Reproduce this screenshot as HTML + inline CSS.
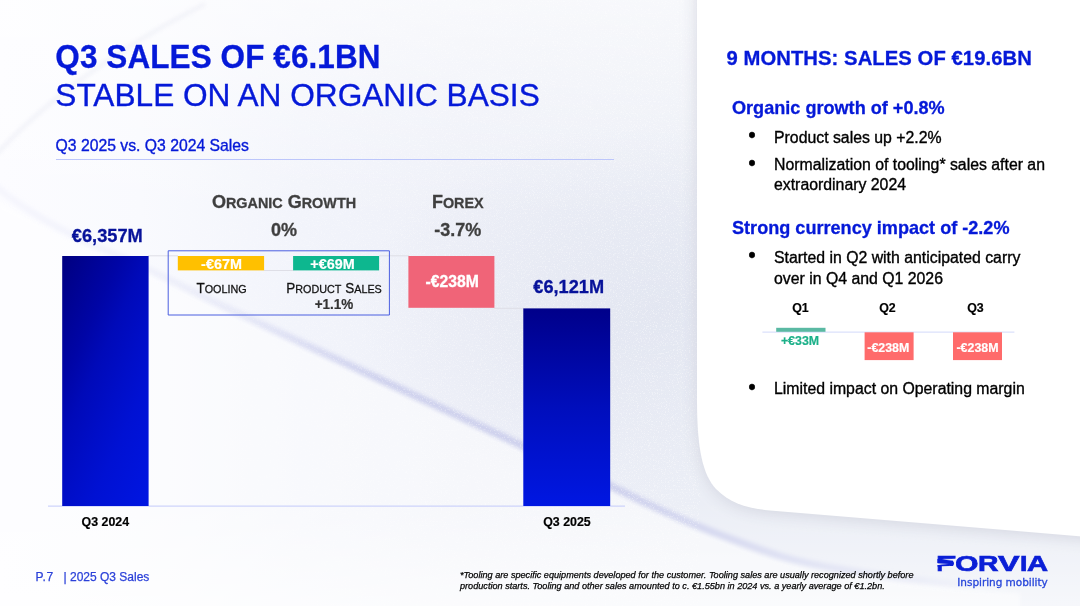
<!DOCTYPE html>
<html lang="en">
<head>
<meta charset="utf-8">
<title>Q3 Sales of €6.1bn – Stable on an organic basis</title>
<style>
html,body{margin:0;padding:0;}
body{width:1080px;height:606px;overflow:hidden;background:#f5f6fc;font-family:"Liberation Sans", Arial, Helvetica, sans-serif;}
.slide{position:relative;width:1080px;height:606px;overflow:hidden;}
.bg{position:absolute;left:0;top:0;display:block;}
.t{position:absolute;white-space:nowrap;margin:0;padding:0;font-weight:normal;}
</style>
</head>
<body>
<div class="slide">
<svg class="bg" width="1080" height="606" viewBox="0 0 1080 606" aria-hidden="true">
<defs>
<linearGradient id="bgG" gradientUnits="userSpaceOnUse" x1="0" y1="0" x2="700" y2="0">
<stop offset="0" stop-color="#fcfcff"/>
<stop offset="0.2" stop-color="#f9fafe"/>
<stop offset="0.43" stop-color="#f2f4fb"/>
<stop offset="0.65" stop-color="#eef0f8"/>
<stop offset="1" stop-color="#ebeef6"/>
</linearGradient>
<linearGradient id="swG" gradientUnits="userSpaceOnUse" x1="0" y1="0" x2="1000" y2="0">
<stop offset="0" stop-color="#c6c9ec" stop-opacity="0.12"/>
<stop offset="0.14" stop-color="#c6c9ec" stop-opacity="0.16"/>
<stop offset="0.24" stop-color="#c6c9ec" stop-opacity="0.3"/>
<stop offset="0.38" stop-color="#c4c7ea" stop-opacity="0.8"/>
<stop offset="0.62" stop-color="#c4c7ea" stop-opacity="0.8"/>
<stop offset="0.8" stop-color="#c6c9ec" stop-opacity="0.4"/>
<stop offset="1" stop-color="#c6c9ec" stop-opacity="0"/>
</linearGradient>
<linearGradient id="topG" gradientUnits="userSpaceOnUse" x1="0" y1="0" x2="0" y2="220">
<stop offset="0" stop-color="#ffffff" stop-opacity="0.6"/>
<stop offset="1" stop-color="#ffffff" stop-opacity="0"/>
</linearGradient>
<radialGradient id="midG" gradientUnits="userSpaceOnUse" cx="660" cy="310" r="300" gradientTransform="translate(660 310) scale(1 0.62) translate(-660 -310)">
<stop offset="0" stop-color="#dde1ee" stop-opacity="0.6"/>
<stop offset="0.5" stop-color="#dde1ee" stop-opacity="0.3"/>
<stop offset="1" stop-color="#dde1ee" stop-opacity="0"/>
</radialGradient>
<linearGradient id="lowG" gradientUnits="userSpaceOnUse" x1="0" y1="500" x2="0" y2="606">
<stop offset="0" stop-color="#ffffff" stop-opacity="0"/>
<stop offset="1" stop-color="#ffffff" stop-opacity="0.55"/>
</linearGradient>
<filter id="b6" x="-20%" y="-20%" width="140%" height="140%"><feGaussianBlur stdDeviation="8"/></filter>
<filter id="b2" x="-20%" y="-20%" width="140%" height="140%"><feGaussianBlur stdDeviation="2.2"/></filter>
<filter id="b10" x="-20%" y="-20%" width="140%" height="140%"><feGaussianBlur stdDeviation="9"/></filter>
<filter id="noise" x="0" y="0" width="100%" height="100%" color-interpolation-filters="sRGB">
<feTurbulence type="fractalNoise" baseFrequency="0.75" numOctaves="2" seed="7" result="n"/>
<feColorMatrix type="matrix" values="0 0 0 0 1  0 0 0 0 1  0 0 0 0 1  5 0 0 0 -2.7"/>
</filter>
<linearGradient id="noiseMaskG" gradientUnits="userSpaceOnUse" x1="0" y1="0" x2="700" y2="0">
<stop offset="0" stop-color="#fff" stop-opacity="0.15"/>
<stop offset="0.5" stop-color="#fff" stop-opacity="0.7"/>
<stop offset="1" stop-color="#fff" stop-opacity="1"/>
</linearGradient>
<mask id="noiseMask"><rect width="700" height="606" fill="url(#noiseMaskG)"/></mask>
<filter id="b1" x="-5%" y="-5%" width="110%" height="110%"><feGaussianBlur stdDeviation="0.5"/></filter>
</defs>
<rect width="1080" height="606" fill="url(#bgG)"/>
<rect x="0" y="500" width="1080" height="106" fill="url(#lowG)"/>
<rect x="0" y="0" width="1080" height="220" fill="url(#topG)"/>
<rect x="300" y="100" width="420" height="420" fill="url(#midG)"/>
<!-- white wash below swoosh -->
<path d="M -30 190 C 20 210, 50 230, 100 252 C 150 272, 200 300, 240 318 L 523 450 L 613 491 C 640 504, 667 518, 713 536 C 740 546, 760 554, 780 560 C 800 566, 820 570, 840 573 C 900 583, 960 589, 1020 593 L 1020 640 L -30 640 Z" fill="#ffffff" opacity="0.5" filter="url(#b2)"/>
<!-- faint upper loop -->
<path d="M -5 156 C 40 106, 110 52, 205 4" fill="none" stroke="#d9dbea" stroke-width="3" filter="url(#b2)" opacity="0.4"/>
<!-- swoosh line -->
<path d="M -5 186 C 20 206, 50 226, 100 248 C 150 268, 200 296, 240 314 L 523 446 L 613 487 C 640 500, 667 514, 713 532 C 740 542, 760 550, 780 556 C 800 562, 820 566, 840 569 C 900 579, 960 585, 1020 589" fill="none" stroke="url(#swG)" stroke-width="7" filter="url(#b2)"/>
<!-- grain -->
<g mask="url(#noiseMask)"><rect width="700" height="606" fill="#fff" filter="url(#noise)" opacity="0.4"/></g>
<!-- panel shadow -->
<path d="M697 -30 L 1110 -30 L 1110 541 L 770 513 C 745 510, 730 505, 716 491 C 703 477, 697 452, 697 400 Z" fill="#d3d5df" filter="url(#b6)" opacity="0.95"/>
<!-- white panel -->
<path d="M697 -30 L 1110 -30 L 1110 538.8 L 770 510.5 C 745 508, 730 503, 716 489 C 703 475, 697 450, 697 400 Z" fill="#ffffff" filter="url(#b1)"/>
</svg>
<h1 class="t" style="top:38.89px;font-size:31.5px;line-height:37.8px;color:#0519d8;font-weight:bold;left:55.3px;transform-origin:0 29.81px;transform:scaleY(1.04);-webkit-text-stroke:0.3px #0519d8;letter-spacing:0.08px;">Q3 SALES OF €6.1BN</h1>
<p class="t" style="top:76.76px;font-size:31.63px;line-height:37.96px;color:#0519d8;left:55.3px;transform-origin:0 29.94px;transform:scaleY(1.0001);-webkit-text-stroke:0.35px #0519d8;">STABLE ON AN ORGANIC BASIS</p>
<h2 class="t" style="top:137.29px;font-size:15.75px;line-height:18.9px;color:#0519d8;left:55.5px;transform-origin:0 14.91px;transform:scaleY(1.0001);-webkit-text-stroke:0.35px #0519d8;">Q3 2025 vs. Q3 2024 Sales</h2>
<svg class="bg" width="1080" height="606" viewBox="0 0 1080 606" aria-hidden="true">
<defs>
<linearGradient id="bar1" gradientUnits="userSpaceOnUse" x1="22.2" y1="342.2" x2="188.6" y2="419.8">
<stop offset="0" stop-color="#000080"/>
<stop offset="0.29" stop-color="#0005a6"/>
<stop offset="0.42" stop-color="#000ab9"/>
<stop offset="0.58" stop-color="#000ec8"/>
<stop offset="0.71" stop-color="#0011d3"/>
<stop offset="1" stop-color="#0016e2"/>
</linearGradient>
<linearGradient id="bar2" x1="0" y1="0" x2="0" y2="1">
<stop offset="0" stop-color="#00008a"/>
<stop offset="0.5" stop-color="#000ebc"/>
<stop offset="1" stop-color="#0017e2"/>
</linearGradient>
</defs>
<!-- connectors -->
<rect x="148" y="255.3" width="30" height="1" fill="#dedee6"/>
<rect x="264" y="270" width="29.5" height="1" fill="#dedee6"/>
<rect x="379" y="255.3" width="30" height="1" fill="#dedee6"/>
<rect x="494" y="307.8" width="30" height="1" fill="#dedee6"/>
<!-- axis -->
<rect x="48" y="505.6" width="577" height="1" fill="#c3cbfb"/>
<!-- bars -->
<rect x="62.2" y="256" width="86.4" height="250" fill="url(#bar1)"/>
<rect x="523.3" y="308.4" width="86.9" height="197.6" fill="url(#bar2)"/>
<!-- organic growth box -->
<rect x="168.2" y="250.8" width="221.2" height="64.2" fill="none" stroke="#4a5fe0" stroke-width="1" stroke-linejoin="round"/>
<rect x="177.8" y="256" width="86.3" height="14.4" fill="#ffc000"/>
<rect x="293.1" y="256" width="86" height="14.4" fill="#0db78f"/>
<rect x="408.4" y="256" width="86" height="51.8" fill="#f06478"/>
<!-- subtitle rule -->
<rect x="56" y="159" width="558" height="1" fill="#bcc6fb"/>
<!-- mini chart -->
<rect x="762.4" y="331.6" width="252" height="1" fill="#d3d9fa"/>
<rect x="776.2" y="327.8" width="49.3" height="4" fill="#5ab9a3"/>
<rect x="864.6" y="332.3" width="49" height="27.8" fill="#ff6b6b"/>
<rect x="953" y="332.3" width="49" height="27.8" fill="#ff6b6b"/>
</svg>
<div class="t" style="top:225.13px;font-size:18.25px;line-height:21.9px;color:#07129a;font-weight:bold;left:107.3px;transform-origin:50% 17.27px;transform:translateX(-50%) scaleY(1.04);-webkit-text-stroke:0.3px #07129a;">€6,357M</div>
<div class="t" style="top:277.17px;font-size:18.2px;line-height:21.84px;color:#07129a;font-weight:bold;left:568.7px;transform-origin:50% 17.23px;transform:translateX(-50%) scaleY(1.04);-webkit-text-stroke:0.3px #07129a;">€6,121M</div>
<div class="t" style="top:192.16px;font-size:18px;line-height:21.6px;color:#3f3f3f;font-weight:bold;left:284px;transform-origin:50% 17.04px;transform:translateX(-50%) scaleY(1.04);-webkit-text-stroke:0.3px #3f3f3f;">O<span style="font-size:14.40px">RGANIC</span> G<span style="font-size:14.40px">ROWTH</span></div>
<div class="t" style="top:219.66px;font-size:18px;line-height:21.6px;color:#3f3f3f;font-weight:bold;left:284px;transform-origin:50% 17.04px;transform:translateX(-50%) scaleY(1.04);-webkit-text-stroke:0.3px #3f3f3f;">0%</div>
<div class="t" style="top:192.16px;font-size:18px;line-height:21.6px;color:#3f3f3f;font-weight:bold;left:457.8px;transform-origin:50% 17.04px;transform:translateX(-50%) scaleY(1.04);-webkit-text-stroke:0.3px #3f3f3f;">F<span style="font-size:14.40px">OREX</span></div>
<div class="t" style="top:219.66px;font-size:18px;line-height:21.6px;color:#3f3f3f;font-weight:bold;left:457.8px;transform-origin:50% 17.04px;transform:translateX(-50%) scaleY(1.04);-webkit-text-stroke:0.3px #3f3f3f;">-3.7%</div>
<div class="t" style="top:256.47px;font-size:14.4px;line-height:17.28px;color:#fff;font-weight:bold;left:221.5px;transform-origin:50% 13.63px;transform:translateX(-50%) scaleY(1.04);-webkit-text-stroke:0.18px #fff;">-€67M</div>
<div class="t" style="top:256.47px;font-size:14.4px;line-height:17.28px;color:#fff;font-weight:bold;left:332.5px;transform-origin:50% 13.63px;transform:translateX(-50%) scaleY(1.04);-webkit-text-stroke:0.18px #fff;">+€69M</div>
<div class="t" style="top:272.69px;font-size:15.75px;line-height:18.9px;color:#fff;font-weight:bold;left:452.2px;transform-origin:50% 14.91px;transform:translateX(-50%) scaleY(1.04);-webkit-text-stroke:0.3px #fff;">-€238M</div>
<div class="t" style="top:280.52px;font-size:13.5px;line-height:16.2px;color:#111;left:221.5px;transform-origin:50% 12.78px;transform:translateX(-50%) scaleY(1.04);-webkit-text-stroke:0.25px #111;">T<span style="font-size:10.80px">OOLING</span></div>
<div class="t" style="top:280.52px;font-size:13.5px;line-height:16.2px;color:#111;left:334px;transform-origin:50% 12.78px;transform:translateX(-50%) scaleY(1.04);-webkit-text-stroke:0.25px #111;">P<span style="font-size:10.80px">RODUCT</span> S<span style="font-size:10.80px">ALES</span></div>
<div class="t" style="top:296.72px;font-size:13.5px;line-height:16.2px;color:#333;font-weight:bold;left:334px;transform-origin:50% 12.78px;transform:translateX(-50%) scaleY(1.04);-webkit-text-stroke:0.18px #333;">+1.1%</div>
<div class="t" style="top:515.26px;font-size:12.4px;line-height:14.88px;color:#000;font-weight:bold;left:105.3px;transform-origin:50% 11.74px;transform:translateX(-50%) scaleY(1.04);-webkit-text-stroke:0.18px #000;">Q3 2024</div>
<div class="t" style="top:515.26px;font-size:12.4px;line-height:14.88px;color:#000;font-weight:bold;left:567px;transform-origin:50% 11.74px;transform:translateX(-50%) scaleY(1.04);-webkit-text-stroke:0.18px #000;">Q3 2025</div>
<div class="t" style="top:569.89px;font-size:12px;line-height:14.4px;color:#2b41d9;left:35.5px;transform-origin:0 11.36px;transform:scaleY(1.0001);-webkit-text-stroke:0.25px #2b41d9;letter-spacing:0.6px;">P.7</div>
<div class="t" style="top:569.89px;font-size:12px;line-height:14.4px;color:#2b41d9;left:63.5px;transform-origin:0 11.36px;transform:scaleY(1.0001);-webkit-text-stroke:0.25px #2b41d9;">| 2025 Q3 Sales</div>
<p class="t" style="top:570.15px;font-size:9.14px;line-height:10.97px;color:#000;left:460px;transform-origin:0 8.65px;transform:scaleY(1.0001);-webkit-text-stroke:0.25px #000;font-style:italic;">*Tooling are specific equipments developed for the customer. Tooling sales are usually recognized shortly before</p>
<p class="t" style="top:581.25px;font-size:9.14px;line-height:10.97px;color:#000;left:460px;transform-origin:0 8.65px;transform:scaleY(1.0001);-webkit-text-stroke:0.25px #000;font-style:italic;">production starts. Tooling and other sales amounted to c. €1.55bn in 2024 vs. a yearly average of €1.2bn.</p>
<h2 class="t" style="top:46.43px;font-size:20.25px;line-height:24.3px;color:#0519d8;font-weight:bold;left:726.5px;transform-origin:0 19.17px;transform:scaleY(1.04);-webkit-text-stroke:0.3px #0519d8;letter-spacing:0.06px;">9 MONTHS: SALES OF €19.6BN</h2>
<h3 class="t" style="top:97.57px;font-size:18.1px;line-height:21.72px;color:#0519d8;font-weight:bold;left:732px;transform-origin:0 17.13px;transform:scaleY(1.0001);-webkit-text-stroke:0.3px #0519d8;">Organic growth of +0.8%</h3>
<div class="t" style="top:123.45px;font-size:21.5px;line-height:25.8px;color:#000;left:752.0px;transform-origin:50% 20.35px;transform:translateX(-50%) scaleY(1.0001);-webkit-text-stroke:0.35px #000;">•</div>
<p class="t" style="top:128.01px;font-size:15.83px;line-height:19.0px;color:#000;left:774px;transform-origin:0 14.99px;transform:scaleY(1.0001);-webkit-text-stroke:0.35px #000;">Product sales up +2.2%</p>
<div class="t" style="top:150.95px;font-size:21.5px;line-height:25.8px;color:#000;left:752.0px;transform-origin:50% 20.35px;transform:translateX(-50%) scaleY(1.0001);-webkit-text-stroke:0.35px #000;">•</div>
<p class="t" style="top:154.51px;font-size:15.83px;line-height:19.0px;color:#000;left:774px;transform-origin:0 14.99px;transform:scaleY(1.0001);-webkit-text-stroke:0.35px #000;">Normalization of tooling* sales after an</p>
<p class="t" style="top:174.51px;font-size:15.83px;line-height:19.0px;color:#000;left:774px;transform-origin:0 14.99px;transform:scaleY(1.0001);-webkit-text-stroke:0.35px #000;">extraordinary 2024</p>
<h3 class="t" style="top:218.37px;font-size:18.1px;line-height:21.72px;color:#0519d8;font-weight:bold;left:732px;transform-origin:0 17.13px;transform:scaleY(1.0001);-webkit-text-stroke:0.3px #0519d8;">Strong currency impact of -2.2%</h3>
<div class="t" style="top:242.55px;font-size:21.5px;line-height:25.8px;color:#000;left:752.0px;transform-origin:50% 20.35px;transform:translateX(-50%) scaleY(1.0001);-webkit-text-stroke:0.35px #000;">•</div>
<p class="t" style="top:248.11px;font-size:15.83px;line-height:19.0px;color:#000;left:774px;transform-origin:0 14.99px;transform:scaleY(1.0001);-webkit-text-stroke:0.35px #000;">Started in Q2 with anticipated carry</p>
<p class="t" style="top:269.21px;font-size:15.83px;line-height:19.0px;color:#000;left:774px;transform-origin:0 14.99px;transform:scaleY(1.0001);-webkit-text-stroke:0.35px #000;">over in Q4 and Q1 2026</p>
<div class="t" style="top:300.56px;font-size:12.4px;line-height:14.88px;color:#000;font-weight:bold;left:800.5px;transform-origin:50% 11.74px;transform:translateX(-50%) scaleY(1.04);-webkit-text-stroke:0.18px #000;">Q1</div>
<div class="t" style="top:300.56px;font-size:12.4px;line-height:14.88px;color:#000;font-weight:bold;left:887.5px;transform-origin:50% 11.74px;transform:translateX(-50%) scaleY(1.04);-webkit-text-stroke:0.18px #000;">Q2</div>
<div class="t" style="top:300.56px;font-size:12.4px;line-height:14.88px;color:#000;font-weight:bold;left:975.5px;transform-origin:50% 11.74px;transform:translateX(-50%) scaleY(1.04);-webkit-text-stroke:0.18px #000;">Q3</div>
<div class="t" style="top:333.56px;font-size:12.4px;line-height:14.88px;color:#1cb089;font-weight:bold;left:800px;transform-origin:50% 11.74px;transform:translateX(-50%) scaleY(1.04);-webkit-text-stroke:0.18px #1cb089;">+€33M</div>
<div class="t" style="top:341.06px;font-size:12.4px;line-height:14.88px;color:#fff;font-weight:bold;left:888.3px;transform-origin:50% 11.74px;transform:translateX(-50%) scaleY(1.04);-webkit-text-stroke:0.18px #fff;">-€238M</div>
<div class="t" style="top:341.06px;font-size:12.4px;line-height:14.88px;color:#fff;font-weight:bold;left:977.5px;transform-origin:50% 11.74px;transform:translateX(-50%) scaleY(1.04);-webkit-text-stroke:0.18px #fff;">-€238M</div>
<div class="t" style="top:375.15px;font-size:21.5px;line-height:25.8px;color:#000;left:752.0px;transform-origin:50% 20.35px;transform:translateX(-50%) scaleY(1.0001);-webkit-text-stroke:0.35px #000;">•</div>
<p class="t" style="top:378.71px;font-size:15.83px;line-height:19.0px;color:#000;left:774px;transform-origin:0 14.99px;transform:scaleY(1.0001);-webkit-text-stroke:0.35px #000;">Limited impact on Operating margin</p>
<div class="logo" style="position:absolute;left:0;top:550.30px;width:1080px;height:26px;font-weight:bold;font-size:21.5px;line-height:26px;color:#0a1fd6;-webkit-text-stroke:0.7px #0a1fd6;white-space:nowrap"><span style="position:absolute;left:935.52px;top:0;transform-origin:0 0;transform:translateY(0.8px) scaleX(1.542)">F</span><span style="position:absolute;left:955.06px;top:0;transform-origin:0 0;transform:translateY(0.8px) scaleX(1.400)">O</span><span style="position:absolute;left:978.17px;top:0;transform-origin:0 0;transform:translateY(0.8px) scaleX(1.317)">R</span><span style="position:absolute;left:998.00px;top:0;transform-origin:0 0;transform:translateY(0.8px) scaleX(1.499)">V</span><span style="position:absolute;left:1020.25px;top:0;transform-origin:0 0;transform:translateY(0.8px) scaleX(1.238)">I</span><span style="position:absolute;left:1026.55px;top:0;transform-origin:0 0;transform:translateY(0.8px) scaleX(1.355)">A</span></div><svg class="bg" width="1080" height="606" viewBox="0 0 1080 606" aria-hidden="true"><rect x="937.4" y="559" width="15.6" height="4" fill="#0a1fd6"/><rect x="953" y="560.8" width="3" height="5.6" fill="#f2f3f9"/><circle cx="951.4" cy="563.4" r="2.55" fill="#0a1fd6"/><path d="M956 558.8 L941.9 559.5 L956 560.9 Z" fill="#f2f3f9"/><path d="M936.5 563.3 L949.2 563.9 L941.9 565.9 L936.5 565.0 Z" fill="#f2f3f9"/><rect x="941.8" y="565.9" width="2.2" height="6" fill="#f2f3f9"/><path d="M937.4 566.4 L937.4 565.2 L941.8 564.6 L949 564.1 L949 566 L941.8 566.2 Z" fill="#0a1fd6"/></svg>
<div class="t" style="top:575.56px;font-size:10.5px;line-height:12.6px;color:#2746da;left:1047.7px;transform-origin:100% 9.94px;transform:translateX(-100%) scaleY(1.0001);-webkit-text-stroke:0.3px #2746da;font-family:'DejaVu Sans','Liberation Sans',sans-serif;letter-spacing:-0.04px;">Inspiring mobility</div>
</div>
</body>
</html>
